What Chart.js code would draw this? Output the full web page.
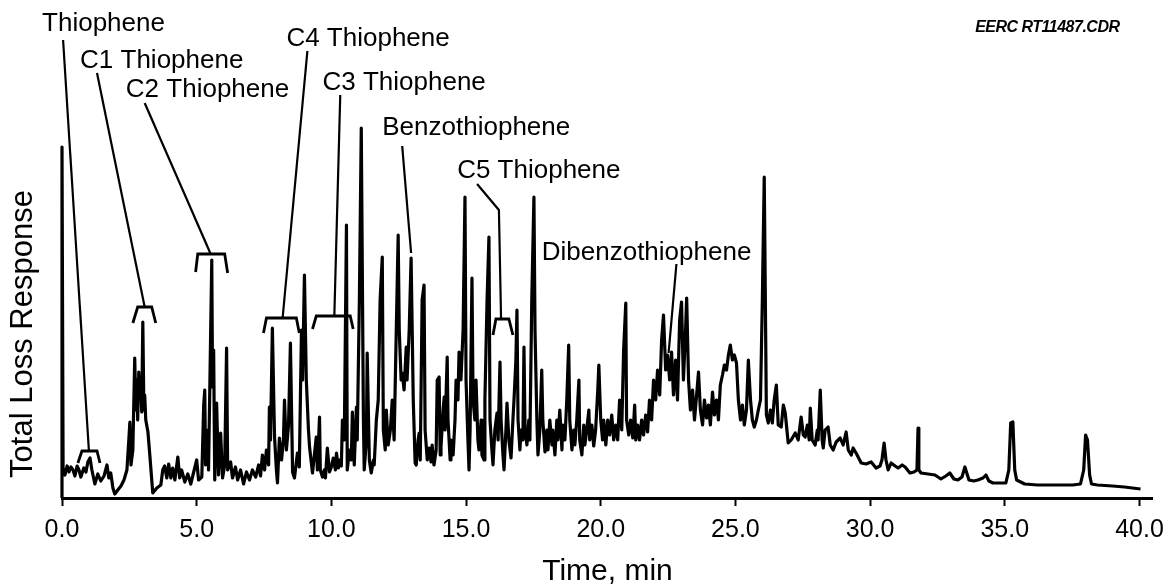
<!DOCTYPE html>
<html>
<head>
<meta charset="utf-8">
<script src="https://cdn.jsdelivr.net/npm/chart.js@4/dist/chart.umd.min.js"></script>
<style>
  html, body { margin: 0; padding: 0; background: #fff; }
</style>
</head>
<body>
<canvas id="chromatogram" width="1173" height="587"></canvas>
<script>
// chromatogram trace: retention time (min) and total loss response
var time = [
  0, 0, 0.04, 0.11, 0.19, 0.26, 0.33, 0.41, 0.48, 0.56, 0.63, 0.7, 0.81, 0.89, 0.96, 1.04, 1.11, 1.22, 1.33, 1.44,
  1.56, 1.67, 1.74, 1.81, 1.89, 1.96, 2.07, 2.19, 2.3, 2.41, 2.48, 2.52, 2.56, 2.63, 2.7, 2.74, 2.78, 2.81, 2.85, 2.89,
  2.93, 2.96, 3.0, 3.04, 3.07, 3.11, 3.19, 3.26, 3.37, 3.52, 3.67, 3.74, 3.81, 3.89, 3.96, 4.04, 4.11, 4.19, 4.3, 4.37,
  4.44, 4.56, 4.67, 4.78, 4.89, 5.0, 5.07, 5.19, 5.26, 5.3, 5.33, 5.41, 5.44, 5.52, 5.56, 5.59, 5.63, 5.67, 5.74, 5.81,
  5.89, 5.96, 6.04, 6.11, 6.15, 6.26, 6.33, 6.44, 6.52, 6.63, 6.74, 6.85, 6.96, 7.07, 7.19, 7.3, 7.37, 7.44, 7.52, 7.59,
  7.67, 7.7, 7.74, 7.81, 7.89, 7.96, 8.0, 8.07, 8.15, 8.22, 8.26, 8.33, 8.41, 8.48, 8.56, 8.63, 8.74, 8.81, 8.89, 8.93,
  9.0, 9.07, 9.15, 9.19, 9.3, 9.37, 9.44, 9.48, 9.56, 9.59, 9.67, 9.74, 9.78, 9.85, 9.93, 10.0, 10.07, 10.15, 10.19, 10.26,
  10.3, 10.37, 10.41, 10.48, 10.56, 10.59, 10.67, 10.74, 10.78, 10.85, 10.93, 10.96, 11.04, 11.11, 11.19, 11.22, 11.3, 11.33, 11.41, 11.48,
  11.56, 11.59, 11.67, 11.74, 11.81, 11.89, 11.93, 12.0, 12.04, 12.11, 12.19, 12.26, 12.33, 12.41, 12.48, 12.52, 12.59, 12.63, 12.7, 12.78,
  12.81, 12.89, 12.96, 13.04, 13.11, 13.15, 13.22, 13.26, 13.3, 13.37, 13.44, 13.48, 13.56, 13.63, 13.7, 13.74, 13.81, 13.89, 13.93, 14.0,
  14.04, 14.07, 14.15, 14.19, 14.22, 14.3, 14.33, 14.41, 14.44, 14.52, 14.59, 14.63, 14.7, 14.74, 14.81, 14.89, 14.96, 15.0, 15.07, 15.11,
  15.15, 15.22, 15.26, 15.33, 15.37, 15.44, 15.48, 15.56, 15.59, 15.67, 15.7, 15.78, 15.85, 15.89, 15.96, 16.0, 16.07, 16.15, 16.19, 16.26,
  16.3, 16.37, 16.41, 16.48, 16.52, 16.59, 16.67, 16.74, 16.78, 16.85, 16.89, 16.93, 17.0, 17.04, 17.11, 17.15, 17.19, 17.26, 17.33, 17.37,
  17.44, 17.52, 17.56, 17.63, 17.67, 17.74, 17.81, 17.85, 17.93, 18.0, 18.04, 18.11, 18.19, 18.22, 18.3, 18.37, 18.41, 18.48, 18.56, 18.59,
  18.67, 18.74, 18.81, 18.85, 18.93, 19.0, 19.04, 19.11, 19.19, 19.22, 19.3, 19.37, 19.41, 19.48, 19.56, 19.59, 19.67, 19.74, 19.81, 19.89,
  19.93, 20.0, 20.07, 20.11, 20.19, 20.26, 20.33, 20.41, 20.48, 20.56, 20.63, 20.7, 20.78, 20.85, 20.93, 20.96, 21.04, 21.11, 21.19, 21.26,
  21.3, 21.37, 21.44, 21.52, 21.59, 21.67, 21.74, 21.81, 21.89, 21.96, 22.04, 22.11, 22.19, 22.26, 22.33, 22.41, 22.48, 22.56, 22.63, 22.7,
  22.78, 22.85, 22.93, 23.0, 23.07, 23.15, 23.19, 23.26, 23.33, 23.41, 23.48, 23.56, 23.63, 23.7, 23.78, 23.85, 23.93, 24.0, 24.07, 24.15,
  24.22, 24.3, 24.37, 24.44, 24.52, 24.59, 24.67, 24.74, 24.81, 24.89, 24.96, 25.04, 25.11, 25.19, 25.26, 25.33, 25.41, 25.48, 25.56, 25.63,
  25.7, 25.78, 25.85, 25.93, 26.0, 26.07, 26.15, 26.22, 26.3, 26.37, 26.44, 26.52, 26.59, 26.7, 26.78, 26.85, 26.96, 27.07, 27.22, 27.33,
  27.44, 27.52, 27.59, 27.67, 27.74, 27.78, 27.85, 27.96, 28.04, 28.07, 28.15, 28.22, 28.26, 28.33, 28.44, 28.52, 28.63, 28.74, 28.89, 29.0,
  29.11, 29.19, 29.3, 29.37, 29.48, 29.67, 29.85, 30.04, 30.22, 30.37, 30.44, 30.52, 30.59, 30.67, 30.78, 30.93, 31.04, 31.19, 31.3, 31.48,
  31.63, 31.74, 31.78, 31.81, 31.89, 32.15, 32.41, 32.63, 32.81, 32.96, 33.11, 33.26, 33.41, 33.52, 33.67, 33.85, 34.0, 34.19, 34.3, 34.41,
  34.56, 34.74, 35.04, 35.15, 35.22, 35.3, 35.37, 35.44, 35.74, 36.22, 36.96, 37.52, 37.81, 37.93, 38.0, 38.07, 38.15, 38.22, 38.44, 39.0,
  39.44, 40.04
];
var response = [
  0, 87.75, 7.5, 5.75, 8, 6.5, 7.75, 7, 5.5, 8, 7, 5.25, 7.5, 6.5, 9, 10, 7, 3.5, 6, 4.25,
  5.5, 8.25, 5, 6.25, 2.5, 1, 2, 3, 4.5, 7, 14.5, 19, 8.25, 12, 35, 22, 29.5, 19.5, 31.5, 24.5,
  28.25, 21.5, 44, 22, 25.75, 19.5, 16.5, 10.75, 1.25, 2.5, 3.25, 7, 8, 5, 8.5, 5, 7.5, 4.5, 10.25, 5,
  7, 4, 6, 3.5, 6.5, 9.5, 4.5, 5.25, 23.25, 27, 8.25, 17, 7, 42, 59.5, 27.75, 37, 4.5, 23.75, 5.75,
  16.25, 5, 8.25, 37.5, 7, 9, 5, 7.75, 4.5, 7, 3.5, 6.5, 4.5, 7, 5.25, 8.25, 5.5, 10.75, 7, 12,
  8.25, 22.75, 14.5, 42.5, 15.25, 7, 3.75, 15, 9.5, 14.5, 24.5, 12, 18.25, 38.75, 6.5, 5, 11.25, 7.75, 42, 29.5,
  55.75, 29.5, 17, 12.75, 6.25, 10.75, 15.25, 7, 20.25, 7, 5.25, 7, 5, 12.5, 6.5, 7.75, 10, 7, 11.25, 7.5,
  9.5, 8, 19.5, 14.5, 68.25, 7, 12, 9.5, 21.5, 8.25, 22.75, 14.5, 49.5, 92.5, 19.5, 7, 14.5, 36.25, 9.5, 6.25,
  9.5, 8.25, 19.5, 24.5, 49.5, 60.25, 17, 12, 22, 13.25, 17, 24.5, 14.5, 42, 65.75, 42, 29.5, 31.25, 27, 37.75,
  29.5, 42, 60, 24.5, 8.75, 8.25, 14.5, 16.25, 9.5, 49.5, 53.25, 17, 9.5, 12.5, 9, 13.25, 8.25, 12, 29.5, 30.25,
  10.75, 12.75, 22, 25.25, 17, 35.25, 19.5, 9.5, 14.5, 10.75, 19.5, 29.5, 24.5, 36.5, 29.5, 42, 75.25, 29.5, 14.5, 7,
  17, 55, 24.5, 19.5, 29.5, 14.5, 12, 19.5, 10.75, 9.5, 24.5, 49.5, 65.25, 19.5, 12, 8.25, 17, 21.25, 14.5, 34,
  19.5, 10.75, 7, 17, 23.75, 14.5, 10, 19.5, 24.5, 34.5, 47, 19.5, 12, 17, 14.5, 37.75, 17, 13.25, 19.5, 14.5,
  49.5, 75.25, 42, 19.5, 10.75, 17, 32, 19.5, 11.5, 17, 12, 19.5, 13.25, 17, 10.75, 19.5, 14.5, 22, 12, 18.25,
  14.5, 24.5, 38.25, 19.5, 12, 17, 13.25, 19.5, 29.5, 14.5, 10.75, 18.25, 13.25, 17, 22, 14.5, 18.25, 13, 17, 27,
  33.25, 19.5, 14.5, 19.5, 13.25, 19.5, 15.75, 20.75, 14.5, 18.25, 14.5, 24.5, 17, 37, 48.75, 19.5, 15.75, 19.5, 15, 23.25,
  14.5, 18.25, 14.5, 19.5, 15.75, 20.75, 16.5, 24.5, 19.5, 29.5, 24.5, 32, 25.75, 39.5, 45.75, 32, 35.75, 29.5, 36.5, 25.75,
  34.5, 24.5, 44.5, 49, 29.5, 42, 50, 29.5, 22, 27, 19.5, 25.75, 31.5, 22, 18.25, 24.5, 20, 23.25, 18.25, 26.5,
  20.75, 24.5, 19.5, 28.25, 30.75, 33.25, 32, 35.75, 38.25, 34.5, 35.75, 33.75, 24.5, 19.5, 23.25, 18.25, 22, 34.5, 24.5, 19.5,
  17.75, 19.5, 22, 24.5, 49.5, 80.25, 20.75, 18.75, 22, 18.75, 24.5, 28.25, 18.25, 17.75, 23.25, 21.25, 13.75, 14.5, 16.25, 14.5,
  20.25, 15.75, 15.25, 18.25, 14.5, 22.5, 14.5, 13.25, 17, 14.5, 27, 14.5, 12.5, 17, 17.75, 13.25, 12, 14, 15, 13.25,
  16.5, 12, 10.75, 12.5, 11.25, 8.75, 8.5, 9, 7.5, 8, 9.5, 13.75, 9.5, 7, 8.75, 8, 7.5, 8.25, 7.75, 6.25,
  6.5, 7, 17.5, 7, 6.25, 6, 5.75, 4.75, 5.5, 6.25, 4.75, 4.5, 5.25, 7.75, 4.5, 4.25, 4.5, 5, 5.75, 4.25,
  3.75, 3.75, 3.75, 7, 18.75, 19, 7, 4.5, 3.5, 3.25, 3.25, 3.25, 3.5, 7, 15.75, 14.5, 5.75, 3.5, 3.25, 3,
  2.75, 2.25
];
var timeTicks = [0, 5, 10, 15, 20, 25, 30, 35, 40];

// peak group labels
var compounds = ['Thiophene', 'C1 Thiophene', 'C2 Thiophene', 'C4 Thiophene', 'C3 Thiophene',
  'Benzothiophene', 'C5 Thiophene', 'Dibenzothiophene'];

// where each label sits and where its leader line goes, in (min, response) units
var labelLayout = [
  { text: [-0.74, 116.75], leader: [[0.04, 114.5], [1.0, 11.75]],
    bracket: [[0.59, 8.75], [0.74, 11.75], [1.30, 11.75], [1.41, 8.75]] },
  { text: [0.67, 107.5], leader: [[1.30, 106.25], [3.07, 47.75]],
    bracket: [[2.63, 43.75], [2.81, 47.75], [3.33, 47.75], [3.48, 43.75]] },
  { text: [2.37, 100.25], leader: [[3.07, 98.75], [5.52, 61]],
    bracket: [[4.96, 56.5], [5.04, 61], [6.04, 61], [6.15, 56.25]] },
  { text: [8.33, 113], leader: [[9.11, 111.75], [8.19, 45]],
    bracket: [[7.48, 41.25], [7.59, 45], [8.70, 45], [8.81, 41.25]] },
  { text: [9.67, 102], leader: [[10.33, 100.75], [10.11, 45.5]],
    bracket: [[9.30, 42.25], [9.44, 45.5], [10.70, 45.5], [10.81, 42.25]] },
  { text: [11.89, 90.75], leader: [[12.63, 88], [12.96, 61.25]], bracket: null },
  { text: [14.67, 80], leader: [[15.41, 78.5], [16.22, 72], [16.30, 44.75]],
    bracket: [[16.0, 40.75], [16.11, 44.75], [16.59, 44.75], [16.74, 40.75]] },
  { text: [17.81, 59.5], leader: [[22.81, 58.5], [22.52, 36.25]], bracket: null }
];
var fileTag = 'EERC RT11487.CDR';

var FONT = '"Liberation Sans", Arial, Helvetica, sans-serif';

var points = time.map(function (t, i) {
  return { x: t, y: response[i] };
});

// draws the leader lines, brackets, compound names and the side texts
var peakLabels = {
  id: 'peakLabels',
  afterDraw: function (chart) {
    var ctx = chart.ctx;
    var xs = chart.scales.x, ys = chart.scales.y;
    function at(p) { return [xs.getPixelForValue(p[0]), ys.getPixelForValue(p[1])]; }
    function path(pts) {
      ctx.beginPath();
      pts.forEach(function (p, k) {
        var q = at(p);
        if (k) ctx.lineTo(q[0], q[1]); else ctx.moveTo(q[0], q[1]);
      });
      ctx.stroke();
    }
    ctx.save();
    ctx.strokeStyle = '#000';
    ctx.fillStyle = '#000';
    ctx.lineJoin = 'miter';
    ctx.font = '26px ' + FONT;
    ctx.textAlign = 'left';
    ctx.textBaseline = 'alphabetic';
    compounds.forEach(function (name, i) {
      var L = labelLayout[i];
      var tp = at(L.text);
      ctx.fillText(name, tp[0], tp[1]);
      ctx.lineWidth = 2.2;
      path(L.leader);
      if (L.bracket) {
        ctx.lineWidth = 2.8;
        path(L.bracket);
      }
    });

    // file tag top right
    ctx.font = 'italic bold 16px ' + FONT;
    ctx.textAlign = 'right';
    if ('letterSpacing' in ctx) ctx.letterSpacing = '-0.5px';
    var tag = at([39.26, 116.5]);
    ctx.fillText(fileTag, tag[0], tag[1]);
    if ('letterSpacing' in ctx) ctx.letterSpacing = '0px';

    // y axis title
    ctx.translate(23, 334);
    ctx.rotate(-Math.PI / 2);
    ctx.font = '31px ' + FONT;
    ctx.textAlign = 'center';
    ctx.textBaseline = 'middle';
    ctx.fillText('Total Loss Response', 0, 0);
    ctx.restore();
  }
};

var ctx = document.getElementById('chromatogram').getContext('2d');

var myChart = new Chart(ctx, {
  type: 'line',
  data: {
    datasets: [{
      label: 'Total Loss Response',
      data: points,
      borderColor: '#000',
      borderWidth: 3.2,
      borderJoinStyle: 'round',
      pointRadius: 0,
      tension: 0,
      fill: false,
      clip: false
    }]
  },
  options: {
    responsive: false,
    animation: false,
    devicePixelRatio: 1,
    layout: { padding: { left: 62, right: 17, top: 98, bottom: 0 } },
    plugins: {
      legend: { display: false },
      tooltip: { enabled: false }
    },
    scales: {
      x: {
        type: 'linear',
        min: 0,
        max: 40.5,
        border: { display: true, color: '#000', width: 3 },
        grid: { display: true, drawOnChartArea: false, drawTicks: true, tickLength: 8, tickWidth: 2, tickColor: '#000' },
        afterBuildTicks: function (scale) {
          scale.ticks = timeTicks.map(function (v) { return { value: v }; });
        },
        ticks: {
          color: '#000',
          padding: 9,
          maxRotation: 0,
          autoSkip: false,
          font: { family: FONT, size: 25 },
          callback: function (v) { return Number(v).toFixed(1); }
        },
        title: {
          display: true,
          text: 'Time, min',
          color: '#000',
          font: { family: FONT, size: 30, lineHeight: 1 },
          padding: { top: 0, bottom: 0 }
        },
        afterFit: function (scale) { scale.height = 89; }
      },
      y: {
        display: false,
        min: 0,
        max: 100
      }
    }
  },
  plugins: [peakLabels]
});
</script>
</body>
</html>
